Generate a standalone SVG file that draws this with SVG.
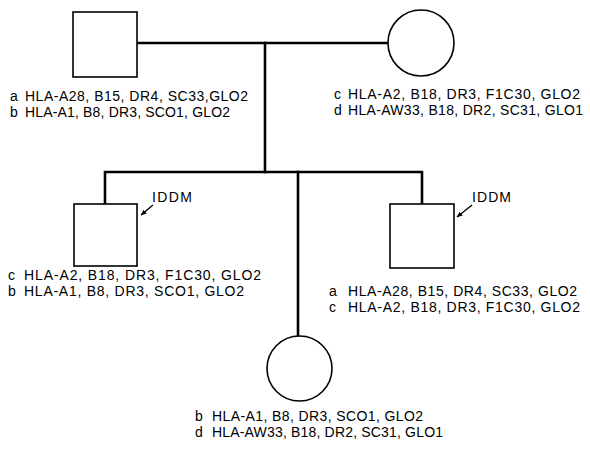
<svg xmlns="http://www.w3.org/2000/svg" width="590" height="452" viewBox="0 0 590 452">
<defs>
<style>
.node{fill:#fff;stroke:#000;stroke-width:1.6}
.line{fill:none;stroke:#000;stroke-width:2.6;stroke-linecap:square}
.arrow{fill:none;stroke:#000;stroke-width:1.4}
text{font-family:"Liberation Sans",Arial,sans-serif;font-size:14px;fill:#000}
</style>
<marker id="ah" viewBox="0 0 10 10" refX="9" refY="5" markerWidth="6" markerHeight="6" orient="auto" markerUnits="userSpaceOnUse">
<path d="M0,1 L10,5 L0,9 z" fill="#000"/>
</marker>
</defs>
<rect width="590" height="452" fill="#fff"/>
<g id="connectors">
<path class="line" d="M137,43 H389"/>
<path class="line" d="M265,43 V172"/>
<path class="line" d="M105,204 V172 H422 V204"/>
<path class="line" d="M298,172 V336"/>
<path class="arrow" d="M153,205 L141,215" marker-end="url(#ah)"/>
<path class="arrow" d="M472,205 L457,217" marker-end="url(#ah)"/>
</g>
<g id="father">
<rect class="node" x="73" y="12" width="64" height="65"/>
<text x="10" y="101">a</text><text x="25" y="101" textLength="223">HLA-A28, B15, DR4, SC33,GLO2</text>
<text x="10" y="117">b</text><text x="25" y="117" textLength="205">HLA-A1, B8, DR3, SCO1, GLO2</text>
</g>
<g id="mother">
<circle class="node" cx="421" cy="43" r="33"/>
<text x="334" y="99">c</text><text x="348" y="99" textLength="232">HLA-A2, B18, DR3, F1C30, GLO2</text>
<text x="334" y="115">d</text><text x="348" y="115" textLength="235">HLA-AW33, B18, DR2, SC31, GLO1</text>
</g>
<g id="son1">
<rect class="node" x="74" y="204" width="63" height="62"/>
<text x="152" y="202" textLength="40">IDDM</text>
<text x="8" y="280">c</text><text x="24" y="280" textLength="237">HLA-A2, B18, DR3, F1C30, GLO2</text>
<text x="8" y="296">b</text><text x="24" y="296" textLength="220">HLA-A1, B8, DR3, SCO1, GLO2</text>
</g>
<g id="son2">
<rect class="node" x="390" y="204" width="64" height="64"/>
<text x="472" y="202" textLength="39">IDDM</text>
<text x="329" y="296">a</text><text x="348" y="296" textLength="229">HLA-A28, B15, DR4, SC33, GLO2</text>
<text x="329" y="312">c</text><text x="348" y="312" textLength="232">HLA-A2, B18, DR3, F1C30, GLO2</text>
</g>
<g id="daughter">
<circle class="node" cx="299.5" cy="368.5" r="32.5"/>
<text x="195" y="421">b</text><text x="212" y="421" textLength="211">HLA-A1, B8, DR3, SCO1, GLO2</text>
<text x="195" y="437">d</text><text x="212" y="437" textLength="231">HLA-AW33, B18, DR2, SC31, GLO1</text>
</g>
</svg>
